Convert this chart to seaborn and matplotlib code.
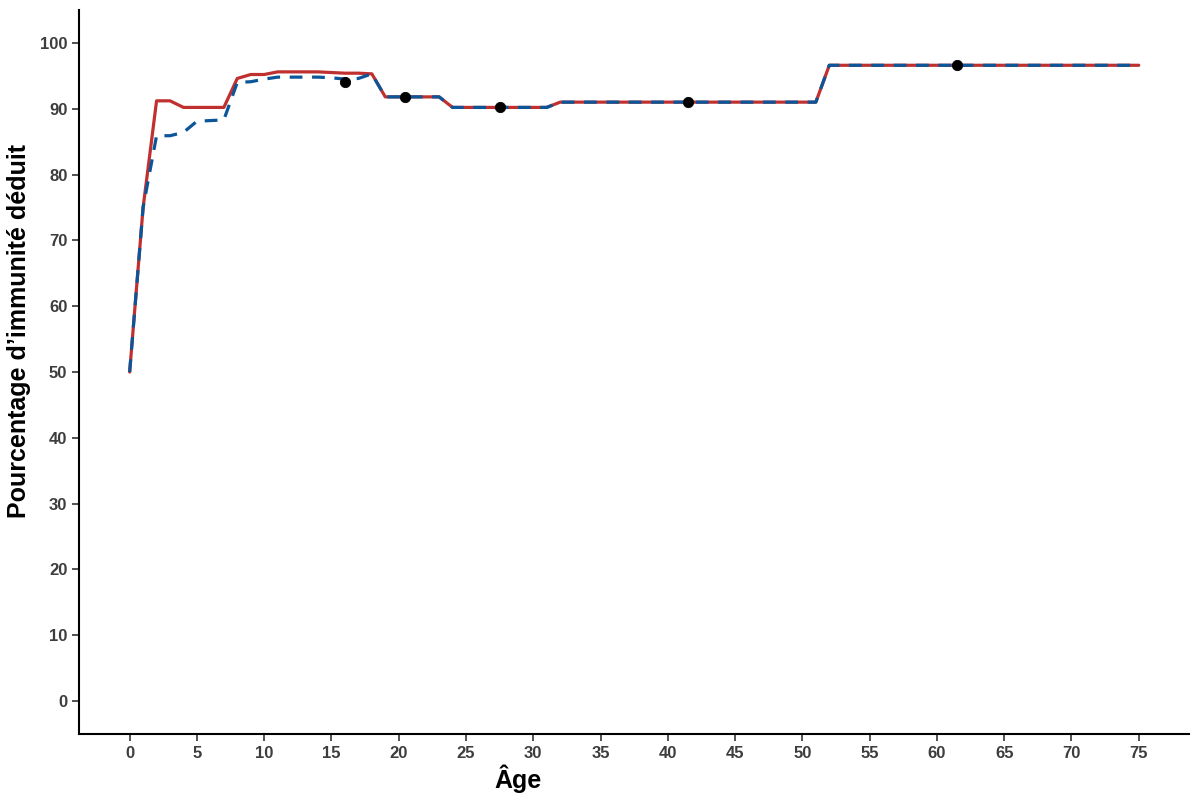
import matplotlib
matplotlib.use('Agg')
import matplotlib.pyplot as plt
import numpy as np
import pandas as pd
import seaborn as sns

# données
age = list(range(0, 76))
rouge = [50.0, 75.0, 91.2, 91.2, 90.2, 90.2, 90.2, 90.2, 94.6, 95.2,
         95.2, 95.6, 95.6, 95.6, 95.6, 95.5, 95.4, 95.4, 95.3, 91.8,
         91.8, 91.8, 91.8, 91.8, 90.2, 90.2, 90.2, 90.2, 90.2, 90.2,
         90.2, 90.2] + [91.0] * 20 + [96.6] * 24
bleu = [50.0, 75.0, 85.9, 85.9, 86.4, 88.1, 88.2, 88.3, 94.0, 94.1,
        94.5, 94.8, 94.8, 94.8, 94.8, 94.7, 94.5, 94.6, 95.3, 91.8,
        91.8, 91.8, 91.8, 91.8, 90.2, 90.2, 90.2, 90.2, 90.2, 90.2,
        90.2, 90.2] + [91.0] * 20 + [96.6] * 24
pts_age = [16.0, 20.5, 27.5, 41.5, 61.5]
pts_val = [94.0, 91.8, 90.2, 91.0, 96.7]

df = pd.DataFrame({'age': age, 'rouge': rouge, 'bleu': bleu})
pts = pd.DataFrame({'age': pts_age, 'val': pts_val})

sns.set_style('white')
plt.rcParams['font.family'] = ['Liberation Sans', 'DejaVu Sans']

fig = plt.figure(figsize=(12, 8), dpi=100)
ax = fig.add_axes([0.066, 0.0825, 0.925, 0.905])

sns.lineplot(data=df, x='age', y='rouge', color='#C0302F', lw=2.3, ax=ax)
sns.lineplot(data=df, x='age', y='bleu', color='#0B5599', lw=2.3, ax=ax,
             dashes=False, linestyle=(0, (4, 3)))
sns.scatterplot(data=pts, x='age', y='val', color='black', s=55,
                edgecolor='black', zorder=5, ax=ax)

ax.set_xlim(-3.75, 78.75)
ax.set_ylim(-5, 105)
ax.set_xticks(np.arange(0, 76, 5))
ax.set_yticks(np.arange(0, 101, 10))
ax.set_xlabel('Âge', fontsize=18, fontweight='bold', color='black')
ax.set_ylabel('Pourcentage d\u2019immunité déduit', fontsize=18,
              fontweight='bold', color='black')
ax.xaxis.label.set_va('center')
ax.yaxis.label.set_va('center')
ax.yaxis.label.set_ha('center')
ax.xaxis.set_label_coords(0.395, -0.062)
ax.yaxis.set_label_coords(-0.054, 0.557)
for lab in ax.get_xticklabels() + ax.get_yticklabels():
    lab.set_fontweight('bold')
ax.tick_params(axis='both', labelsize=12, labelcolor='#3D3D3D',
               length=5, width=1.2, color='#333333', direction='out',
               bottom=True, left=True)
for s in ['top', 'right']:
    ax.spines[s].set_visible(False)
for s in ['left', 'bottom']:
    ax.spines[s].set_color('black')
    ax.spines[s].set_linewidth(1.5)

fig.savefig('out.png', dpi=100)
